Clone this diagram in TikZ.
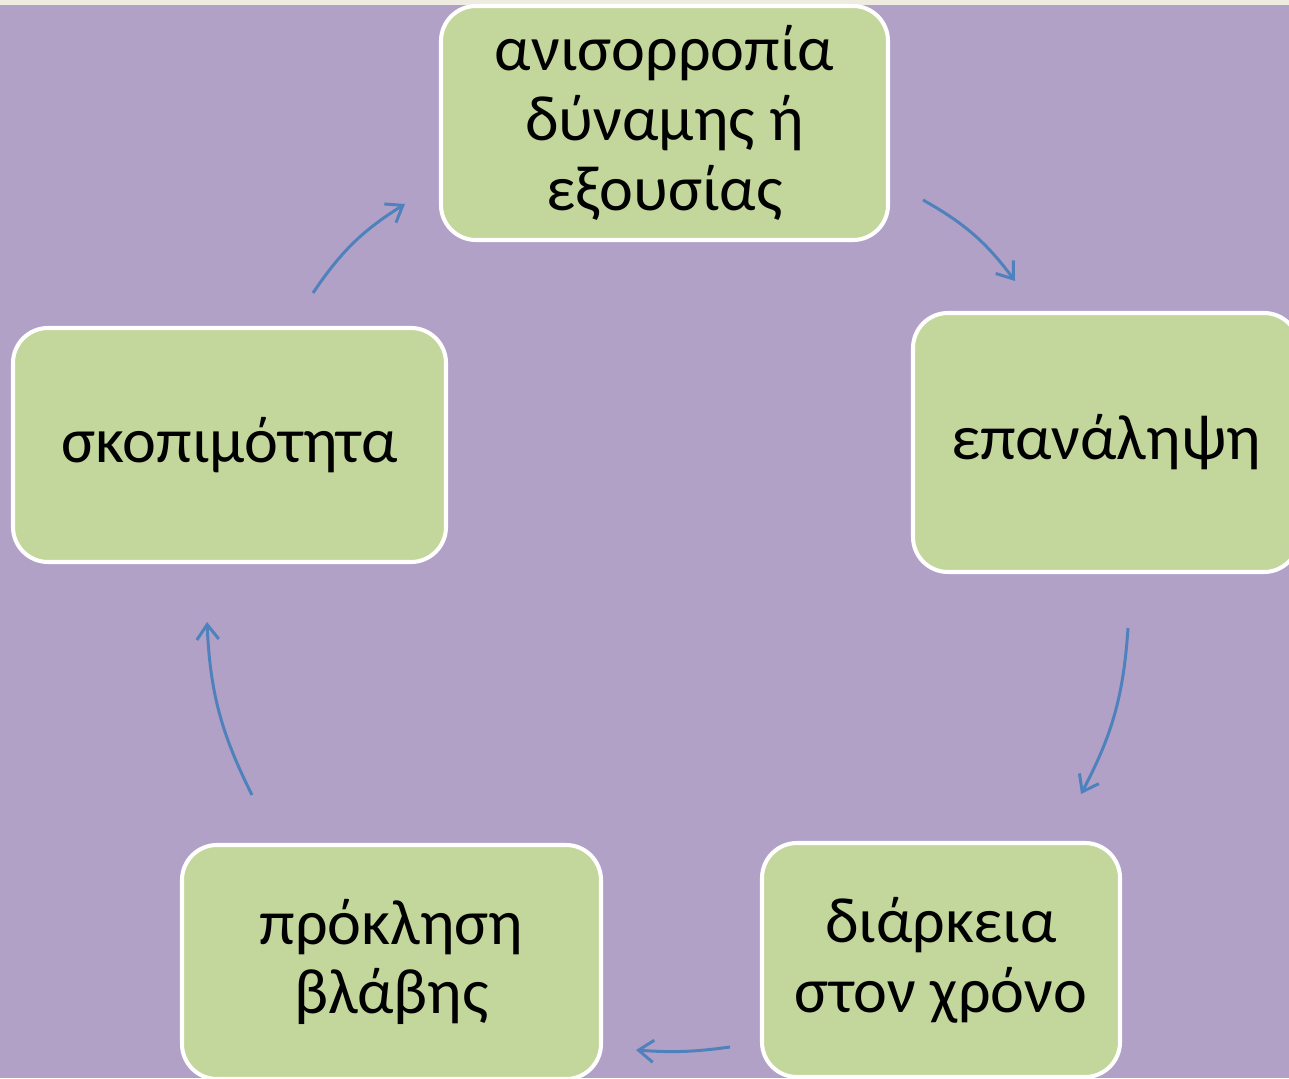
\documentclass[tikz,border=0pt]{standalone}
\usepackage{fontspec}
\setmainfont{Carlito}
\usetikzlibrary{arrows.meta}
\definecolor{bgpurple}{HTML}{B1A1C7}
\definecolor{boxgreen}{HTML}{C3D69B}
\definecolor{arrowblue}{HTML}{4F81BD}
\definecolor{topstrip}{HTML}{EEEBE0}
\begin{document}
\begin{tikzpicture}
\tikzstyle{stage}=[draw=white,line width=2.3pt,fill=boxgreen,rounded corners=0.7cm,align=center,font=\fontsize{36.5}{39.7}\selectfont,inner sep=0pt]
\tikzstyle{cyc}=[arrowblue,line width=1.7pt,-{Straight Barb[length=3mm,width=4.4mm]},bend left=12]
\useasboundingbox (0,0) rectangle (25.78,21.56);
\clip (0,0) rectangle (25.78,21.56);
\fill[bgpurple] (0,0) rectangle (25.78,21.56);
\fill[topstrip] (0,21.46) rectangle (25.78,21.56);

\path (13.29,19.10) node[stage,minimum width=8.94cm,minimum height=4.68cm](imbalance){ανισορροπία\\δύναμης ή\\εξουσίας};
\path (22.12,12.71) node[stage,minimum width=7.72cm,minimum height=5.18cm](repetition){επανάληψη};
\path (18.82,2.36) node[stage,minimum width=7.16cm,minimum height=4.68cm](duration){διάρκεια\\στον χρόνο};
\path (7.83,2.32) node[stage,minimum width=8.38cm,minimum height=4.68cm](harm){πρόκληση\\βλάβης};
\path (4.59,12.66) node[stage,minimum width=8.66cm,minimum height=4.68cm](intent){σκοπιμότητα};

% arrow ends
\coordinate (a1s) at (18.46,17.56); \coordinate (a1e) at (20.30,15.94);
\coordinate (a2s) at (22.56,9.00);  \coordinate (a2e) at (21.62,5.68);
\coordinate (a3s) at (14.60,0.62);  \coordinate (a3e) at (12.72,0.56);
\coordinate (a4s) at (5.04,5.66);   \coordinate (a4e) at (4.14,9.12);
\coordinate (a5s) at (6.26,15.70);  \coordinate (a5e) at (8.10,17.48);

\draw[cyc] (a1s) to (a1e);
\draw[cyc] (a2s) to (a2e);
\draw[cyc,bend left=6] (a3s) to (a3e);
\draw[cyc] (a4s) to (a4e);
\draw[cyc] (a5s) to (a5e);
\end{tikzpicture}
\end{document}
